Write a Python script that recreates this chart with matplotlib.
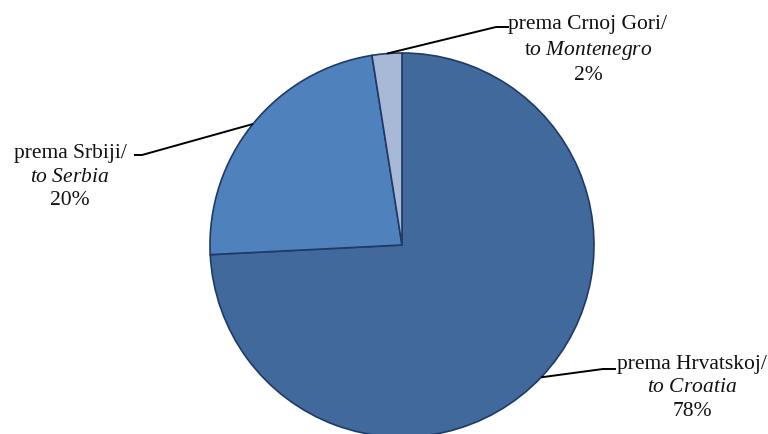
import numpy as np
import matplotlib
matplotlib.use("Agg")
import matplotlib.pyplot as plt

plt.rcParams['font.family'] = ['Liberation Serif', 'DejaVu Serif']
plt.rcParams['mathtext.fontset'] = 'custom'
plt.rcParams['mathtext.rm'] = 'Liberation Serif'
plt.rcParams['mathtext.it'] = 'Liberation Serif:italic'

# data (slice sizes as drawn; labels as printed)
categories = ["Croatia", "Serbia", "Montenegro"]
label_local = ["prema Hrvatskoj/", "prema Srbiji/", "prema Crnoj Gori/"]
label_en = [r"$\mathit{to\ Croatia}$", r"$\mathit{to\ Serbia}$", r"$\mathrm{t}\mathit{o\ Montenegro}$"]
label_pct = ["78%", "20%", "2%"]
values = [74.2, 23.3, 2.5]
colors = ["#41699B", "#4F81BD", "#A8B9D8"]

W, H = 768, 434
fig = plt.figure(figsize=(W / 100, H / 100), dpi=100)
ax = fig.add_axes([0, 0, 1, 1])
R = 192.0
cx, cy = 402.0, 245.0

wedges, _ = ax.pie(values, colors=colors, startangle=90, counterclock=False,
                   radius=1.0, center=(0, 0), frame=True,
                   wedgeprops=dict(edgecolor="#1F3A66", linewidth=1.2))
ax.set_xlim(-cx / R, (W - cx) / R)
ax.set_ylim((cy - H) / R, cy / R)
ax.set_aspect('auto')
ax.axis('off')

# leader elbow and text positions (layout, in pixels)
elbows = [((603, 369), (616, 369)), ((142, 155), (134, 155)), ((496, 27), (509, 27))]
text_pos = [(692, 388), (70, 177), (588, 50)]

def px(p):
    return ((p[0] - cx) / R, (cy - p[1]) / R)

for w, (e1, e2), tp, l1, l2, l3 in zip(wedges, elbows, text_pos, label_local, label_en, label_pct):
    ang = np.deg2rad((w.theta1 + w.theta2) / 2)
    start = (np.cos(ang), np.sin(ang))
    p1 = px(e1)
    p2 = px(e2)
    ax.plot([start[0], p1[0], p2[0]], [start[1], p1[1], p2[1]], color="black", lw=1.4,
            solid_capstyle='butt')
    t = px(tp)
    ax.text(t[0], t[1], l1 + "\n" + l2 + "\n" + l3, ha='center', va='center',
            fontsize=15.5, linespacing=1.3, color="#111111")

fig.savefig("out.png", dpi=100)
